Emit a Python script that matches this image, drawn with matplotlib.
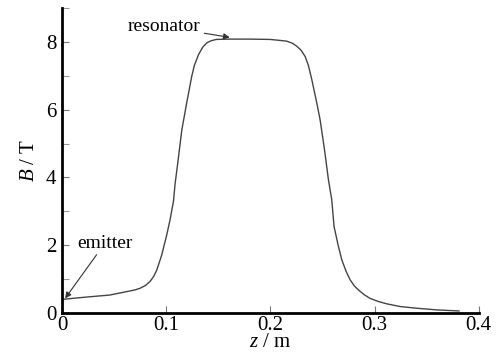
import matplotlib
matplotlib.use('Agg')
import matplotlib.pyplot as plt
from matplotlib.ticker import MultipleLocator

# field profile along the axis
z = [0.0, 0.02, 0.046, 0.062, 0.07, 0.075, 0.08, 0.0845, 0.088, 0.091,
     0.0957, 0.1005, 0.1037, 0.107, 0.1085, 0.111, 0.115, 0.1197, 0.1245, 0.127,
     0.131, 0.135, 0.139, 0.143, 0.148, 0.16, 0.18, 0.2, 0.2157, 0.221,
     0.2253, 0.2295, 0.2333, 0.2365, 0.2397, 0.2445, 0.2477, 0.252, 0.2557, 0.2589,
     0.2611, 0.265, 0.2685, 0.2725, 0.2765, 0.2805, 0.2845, 0.29, 0.2957, 0.3035,
     0.3117, 0.3245, 0.3405, 0.36, 0.381]
B = [0.40, 0.46, 0.53, 0.63, 0.68, 0.73, 0.81, 0.93, 1.08, 1.27,
     1.71, 2.30, 2.75, 3.30, 3.80, 4.40, 5.40, 6.20, 6.98, 7.30,
     7.62, 7.84, 7.97, 8.03, 8.07, 8.08, 8.08, 8.07, 8.02, 7.96,
     7.87, 7.75, 7.57, 7.30, 6.89, 6.20, 5.70, 4.80, 3.93, 3.34,
     2.55, 2.00, 1.57, 1.24, 0.98, 0.80, 0.68, 0.54, 0.43, 0.34,
     0.27, 0.19, 0.14, 0.09, 0.06]

xticks = [0, 0.1, 0.2, 0.3, 0.4]
xticklabels = ['0', '0.1', '0.2', '0.3', '0.4']
yticks = [0, 2, 4, 6, 8]

plt.rcParams['font.family'] = ['Liberation Serif', 'DejaVu Serif']
plt.rcParams['mathtext.fontset'] = 'custom'
plt.rcParams['mathtext.it'] = 'Liberation Serif:italic'
plt.rcParams['mathtext.rm'] = 'Liberation Serif'

fig = plt.figure(figsize=(5.04, 3.6), dpi=100)
ax = fig.add_axes([0.123, 0.1306, 0.827, 0.8474])

ax.plot(z, B, color='#444444', lw=1.0)

ax.set_xlim(0, 0.4)
ax.set_ylim(0, 9)
ax.set_xticks(xticks)
ax.set_xticklabels(xticklabels)
ax.set_yticks(yticks)
ax.yaxis.set_minor_locator(MultipleLocator(1))

for s in ['top', 'right']:
    ax.spines[s].set_visible(False)
for s in ['left', 'bottom']:
    ax.spines[s].set_linewidth(2.0)

ax.tick_params(which='major', direction='in', length=5, width=0.8,
               color='#777777', labelsize=15, pad=4)
ax.tick_params(which='minor', direction='in', length=5, width=0.8,
               color='#999999')
ax.tick_params(axis='x', pad=2)

ax.set_xlabel('$z$ / m', fontsize=15, labelpad=-1)
ax.set_ylabel('$B$ / T', fontsize=15, labelpad=5)

ax.annotate('resonator', xy=(0.161, 8.13), xytext=(0.1325, 8.45),
            fontsize=14, ha='right', va='center',
            arrowprops=dict(arrowstyle='-|>', color='#333333', lw=0.8,
                            mutation_scale=9, shrinkA=1, shrinkB=0))
ax.annotate('emitter', xy=(0.003, 0.43), xytext=(0.041, 1.8),
            fontsize=14, ha='center', va='bottom',
            arrowprops=dict(arrowstyle='-|>', color='#333333', lw=0.8,
                            mutation_scale=9, shrinkA=0, shrinkB=0))

fig.savefig('out.png', dpi=100)
